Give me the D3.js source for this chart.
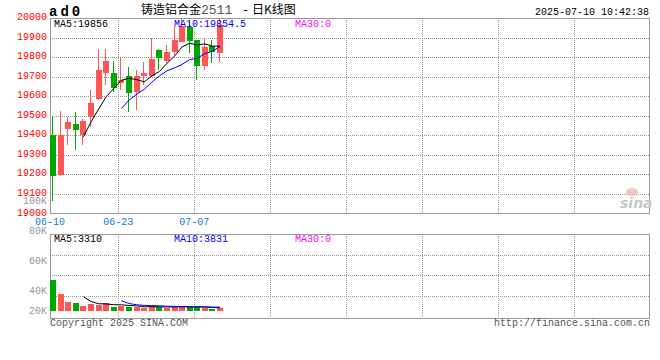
<!DOCTYPE html>
<html>
<head>
<meta charset="utf-8">
<script src="https://cdn.jsdelivr.net/npm/d3@7/dist/d3.min.js"></script>
<style>
body { margin: 0; background: #fff; }
svg text { font-family: "Liberation Mono", "DejaVu Sans Mono", monospace; font-size: 10px; }
</style>
</head>
<body>
<script>
'use strict';

var width = 660,
    height = 360;

// daily bars
var dates  = ["06-10","06-11","06-12","06-13","06-16","06-17","06-18","06-19","06-20","06-23",
              "06-24","06-25","06-26","06-27","06-30","07-01","07-02","07-03","07-04","07-07",
              "07-08","07-09","07-10"];
var opens  = [19403,19196,19434,19459,19401,19495,19587,19721,19721,19667,
              19704,19621,19704,19704,19837,19781,19828,19879,19956,19888,
              19752,19857,19820];
var highs  = [19500,19525,19496,19520,19485,19633,19840,19842,19781,19803,
              19748,19735,19777,19896,19840,19862,19956,20000,19980,19888,
              19896,19888,19998];
var lows   = [19066,19194,19352,19327,19352,19444,19580,19658,19624,19633,
              19517,19531,19658,19700,19735,19769,19811,19875,19820,19684,
              19735,19769,19777];
var closes = [19190,19403,19466,19429,19474,19566,19735,19781,19641,19684,
              19616,19704,19721,19791,19797,19827,19888,19960,19884,19752,
              19854,19828,19964];
var volumes = [31200,17400,9300,8400,5400,7300,6000,8300,4400,5000,
               3800,4400,3400,5300,4100,3200,4500,4660,4200,4100,
               2800,2400,3050];

var priceTicks = [19000,19100,19200,19300,19400,19500,19600,19700,19800,19900,20000];
var volTicks = [20000,40000,60000,80000,100000];
var volTickLabels = ["20K","40K","60K","80K","100K"];
var dateTicks = ["06-10","06-23","07-07"];

var bars = dates.map(function(d, i) {
  return {i: i, date: d, o: opens[i], h: highs[i], l: lows[i], c: closes[i], v: volumes[i]};
});

var svg = d3.select("body").append("svg")
    .attr("width", width)
    .attr("height", height)
    .style("display", "block");

var red = "#ff5555", green = "#00a800", grid = "#999";

// 79 slots across the panel, only the first 23 are filled
var x = d3.scaleLinear().domain([0, 79]).range([50, 650]);
var yP = d3.scaleLinear().domain([19000, 20000]).range([213.5, 18]);
var yV = d3.scaleLinear().domain([0, 80000]).range([311, 231]);
// sina's volume labels are not evenly spaced
var yVL = d3.scaleLinear().domain([20000, 40000, 100000]).range([311, 291, 201]);

function px(v) { return Math.round(v) + 0.5; }

function movingAvg(arr, n) {
  return arr.map(function(v, i) {
    return i < n - 1 ? null : d3.mean(arr.slice(i - n + 1, i + 1));
  });
}

// ---- price panel grid
var gP = svg.append("g");
gP.selectAll("line.h")
    .data(priceTicks.slice(1, -1))
    .enter().append("line")
    .attr("x1", 50).attr("x2", 650)
    .attr("y1", function(d) { return px(yP(d)); })
    .attr("y2", function(d) { return px(yP(d)); })
    .attr("stroke", grid).attr("stroke-dasharray", "1,1");

var vIdx = d3.range(9, 79, 10);
gP.selectAll("line.v")
    .data(vIdx)
    .enter().append("line")
    .attr("x1", function(d) { return px(x(d)); })
    .attr("x2", function(d) { return px(x(d)); })
    .attr("y1", 18).attr("y2", 213)
    .attr("stroke", grid).attr("stroke-dasharray", "1,1");

gP.append("rect")
    .attr("x", 50.5).attr("y", 18.5).attr("width", 599).attr("height", 195)
    .attr("fill", "none").attr("stroke", grid);

// ---- volume panel grid
var gV = svg.append("g");
var vTop = 234, vBot = 316;
gV.selectAll("line.h")
    .data([1, 2, 3])
    .enter().append("line")
    .attr("x1", 50).attr("x2", 650)
    .attr("y1", function(d) { return px(vTop + (vBot - vTop) * d / 4); })
    .attr("y2", function(d) { return px(vTop + (vBot - vTop) * d / 4); })
    .attr("stroke", grid).attr("stroke-dasharray", "1,1");
gV.selectAll("line.v")
    .data(vIdx)
    .enter().append("line")
    .attr("x1", function(d) { return px(x(d)); })
    .attr("x2", function(d) { return px(x(d)); })
    .attr("y1", vTop).attr("y2", 318)
    .attr("stroke", grid).attr("stroke-dasharray", "1,1");
gV.append("rect")
    .attr("x", 50.5).attr("y", vTop + 0.5).attr("width", 599).attr("height", 84)
    .attr("fill", "none").attr("stroke", grid);

// ---- candles
var candle = svg.append("g").attr("shape-rendering", "crispEdges")
    .selectAll("g")
    .data(bars)
    .enter().append("g");

candle.append("rect")
    .attr("x", function(d) { return Math.round(x(d.i)) + 2; })
    .attr("width", 1)
    .attr("y", function(d) { return yP(d.h); })
    .attr("height", function(d) { return yP(d.l) - yP(d.h); })
    .attr("fill", function(d) { return d.c >= d.o ? red : green; });

candle.append("rect")
    .attr("x", function(d) { return Math.round(x(d.i)); })
    .attr("width", 6)
    .attr("y", function(d) { return yP(Math.max(d.o, d.c)); })
    .attr("height", function(d) { return Math.max(1, Math.abs(yP(d.o) - yP(d.c))); })
    .attr("fill", function(d) { return d.c >= d.o ? red : green; });

// ---- volume bars
svg.append("g").attr("shape-rendering", "crispEdges")
    .selectAll("rect")
    .data(bars)
    .enter().append("rect")
    .attr("x", function(d) { return Math.round(x(d.i)); })
    .attr("width", 6)
    .attr("y", function(d) { return yV(d.v); })
    .attr("height", function(d) { return yV(0) - yV(d.v); })
    .attr("fill", function(d) { return d.c >= d.o ? red : green; });

// ---- moving averages
function maLine(values, n, yScale, color) {
  var ma = movingAvg(values, n);
  var line = d3.line()
      .defined(function(d) { return d !== null; })
      .x(function(d, i) { return x(i) + 3; })
      .y(function(d) { return yScale(d); });
  svg.append("path")
      .datum(ma)
      .attr("d", line)
      .attr("fill", "none")
      .attr("stroke", color)
      .attr("stroke-width", 1);
}
maLine(closes, 5, yP, "#000");
maLine(closes, 10, yP, "#0000ff");
maLine(volumes, 5, yV, "#000");
maLine(volumes, 10, yV, "#0000ff");

// ---- axis labels
svg.append("g").selectAll("text")
    .data(priceTicks)
    .enter().append("text")
    .attr("x", 47)
    .attr("y", function(d) { return yP(d) + 2; })
    .attr("text-anchor", "end")
    .attr("fill", "#ff0000")
    .text(function(d) { return d; });

svg.append("g").selectAll("text")
    .data(volTicks)
    .enter().append("text")
    .attr("x", 47)
    .attr("y", function(d) { return yVL(d) + 3; })
    .attr("text-anchor", "end")
    .attr("fill", "#999")
    .text(function(d, i) { return volTickLabels[i]; });

svg.append("g").selectAll("text")
    .data(dateTicks)
    .enter().append("text")
    .attr("x", function(d) { return x(dates.indexOf(d)); })
    .attr("y", 225)
    .attr("text-anchor", "middle")
    .attr("fill", "#0a7fd6")
    .text(function(d) { return d; });

// ---- legends
function label(tx, ty, str, color) {
  return svg.append("text").attr("x", tx).attr("y", ty).attr("fill", color).text(str);
}
label(54, 27, "MA5:19856", "#000");
label(174, 27, "MA10:19854.5", "#0000ff");
label(295, 27, "MA30:0", "#ff00ff");
label(54, 242, "MA5:3310", "#000");
label(174, 242, "MA10:3831", "#0000ff");
label(295, 242, "MA30:0", "#ff00ff");

// ---- header
svg.append("text")
    .attr("x", 49).attr("y", 16)
    .style("font-size", "14px").style("font-weight", "bold")
    .style("letter-spacing", "3px")
    .attr("fill", "#000")
    .text("ad0");

svg.append("text")
    .attr("x", 141).attr("y", 14)
    .style("font-family", "'Noto Sans CJK SC', sans-serif")
    .style("font-size", "12px")
    .attr("fill", "#000")
    .text("铸造铝合金");
svg.append("text")
    .attr("x", 201).attr("y", 14)
    .style("font-size", "13px")
    .attr("fill", "#555")
    .text("2511");
svg.append("text")
    .attr("x", 242).attr("y", 14)
    .style("font-size", "12px")
    .attr("fill", "#000")
    .text("-");
svg.append("text")
    .attr("x", 252).attr("y", 14)
    .style("font-family", "'Noto Sans CJK SC', sans-serif")
    .style("font-size", "12px")
    .attr("fill", "#000")
    .text("日K线图");

svg.append("text")
    .attr("x", 649).attr("y", 15)
    .attr("text-anchor", "end")
    .attr("fill", "#000")
    .text("2025-07-10 10:42:38");

// ---- footer
label(50, 326, "Copyright 2025 SINA.COM", "#555");
svg.append("text")
    .attr("x", 650).attr("y", 326)
    .attr("text-anchor", "end")
    .attr("fill", "#555")
    .text("http://finance.sina.com.cn");

// ---- watermark
svg.append("ellipse")
    .attr("cx", 632).attr("cy", 192).attr("rx", 6).attr("ry", 4)
    .attr("fill", "#f3b5b5").attr("opacity", 0.8);
svg.append("text")
    .attr("x", 620).attr("y", 208)
    .style("font-family", "'DejaVu Sans', sans-serif")
    .style("font-size", "14px").style("font-style", "italic").style("font-weight", "bold")
    .attr("fill", "#c8c8c8")
    .text("sina");
</script>
</body>
</html>
